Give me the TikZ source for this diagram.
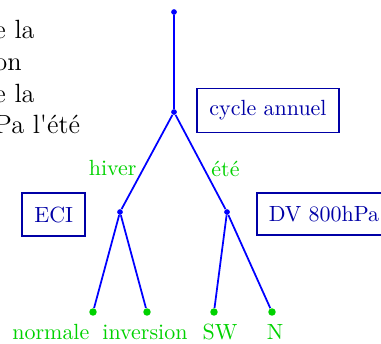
\documentclass[tikz,border=0pt]{standalone}
\usepackage{tikz}
\usetikzlibrary{positioning}
\definecolor{branchcolor}{RGB}{0,0,255}
\definecolor{boxcolor}{RGB}{0,0,166}
\definecolor{leafcolor}{RGB}{0,210,0}

\begin{document}
\begin{tikzpicture}[
  branche/.style={thick,branchcolor},
  noeud/.style={circle,fill=branchcolor,inner sep=0pt,minimum size=2.6pt},
  feuille/.style={circle,fill=leafcolor,inner sep=0pt,minimum size=3.4pt},
  critere/.style={rectangle,draw=boxcolor,text=boxcolor,thick,
                  inner sep=5.5pt,minimum height=0.68cm},
  etiq/.style={text=leafcolor,inner sep=3pt}
]
\useasboundingbox (0,0) rectangle (6.096,5.488);
\node[anchor=north west,align=left,font=\fontsize{12}{14.5}\selectfont] (txt)
  at (-0.213,5.29) {e la\\on\\e la\\Pa l\textquotesingle été};
\node[noeud]   (R)  at (2.784,5.296) {};
\node[noeud]   (M)  at (2.784,3.696) {};
\node[noeud]   (H)  at (1.92,2.096)  {};
\node[noeud]   (E)  at (3.632,2.096) {};
\node[feuille] (L1) at (1.488,0.496) {};
\node[feuille] (L2) at (2.352,0.496) {};
\node[feuille] (L3) at (3.424,0.496) {};
\node[feuille] (L4) at (4.352,0.496) {};
\node[critere] (cyc) at (4.288,3.72)  {cycle annuel};
\node[critere] (eci) at (0.86,2.055)  {ECI};
\node[critere] (dv)  at (5.184,2.065) {DV 800hPa};
\draw[branche] (R) -- (M);
\draw[branche] (M) -- node[etiq,pos=0.56,left]{hiver} (H);
\draw[branche] (M) -- node[etiq,pos=0.57,right]{été} (E);
\draw[branche] (H) -- (L1); \draw[branche] (H) -- (L2);
\draw[branche] (E) -- (L3); \draw[branche] (E) -- (L4);
\node[etiq,anchor=base] (l1) at (0.814,0.05) {normale};
\node[etiq,anchor=base] (l2) at (2.32,0.05)  {inversion};
\node[etiq,anchor=base] (l3) at (3.52,0.05)  {SW};
\node[etiq,anchor=base] (l4) at (4.4,0.05)   {N};
\end{tikzpicture}
\end{document}
